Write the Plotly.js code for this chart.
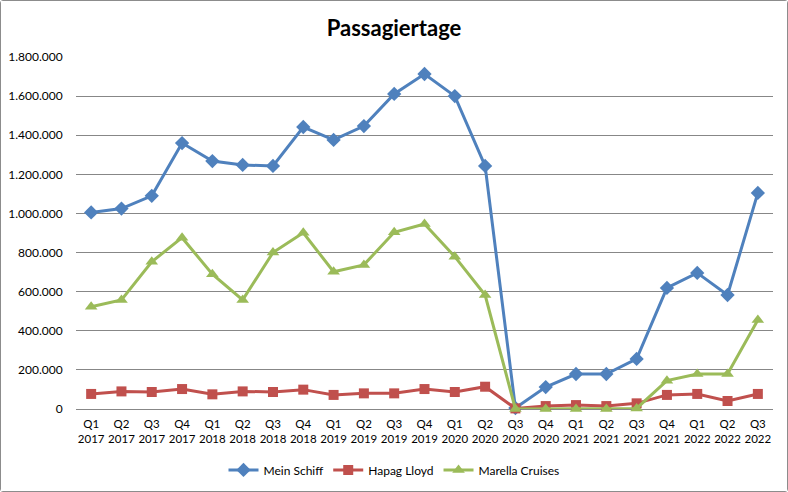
<!DOCTYPE html>
<html>
<head>
<meta charset="utf-8">
<script src="https://cdn.plot.ly/plotly-3.0.1.min.js"></script>
<style>
  html, body { margin: 0; padding: 0; background: #fff; }
  #plot {
    width: 786px;
    height: 490px;
    border: 1px solid #8c8c8c;
    border-radius: 3px;
  }
</style>
</head>
<body>
<div id="plot"></div>
<script>
'use strict';

const quarters = [
  'Q1<br>2017', 'Q2<br>2017', 'Q3<br>2017', 'Q4<br>2017',
  'Q1<br>2018', 'Q2<br>2018', 'Q3<br>2018', 'Q4<br>2018',
  'Q1<br>2019', 'Q2<br>2019', 'Q3<br>2019', 'Q4<br>2019',
  'Q1<br>2020', 'Q2<br>2020', 'Q3<br>2020', 'Q4<br>2020',
  'Q1<br>2021', 'Q2<br>2021', 'Q3<br>2021', 'Q4<br>2021',
  'Q1<br>2022', 'Q2<br>2022', 'Q3<br>2022'
];

const meinSchiff = [
  1005000, 1025000, 1090000, 1360000,
  1268000, 1248000, 1243000, 1442000,
  1376000, 1447000, 1611000, 1713000,
  1600000, 1243000, 5000, 112000,
  179000, 179000, 256000, 619000,
  696000, 583000, 1105000
];

const hapagLloyd = [
  77000, 90000, 87000, 102000,
  75000, 90000, 87000, 99000,
  72000, 80000, 80000, 102000,
  87000, 114000, 3000, 15000,
  20000, 15000, 29000, 72000,
  77000, 41000, 77000
];

const marella = [
  523000, 558000, 753000, 876000,
  689000, 558000, 800000, 901000,
  702000, 737000, 904000, 946000,
  779000, 583000, 0, 0,
  0, 0, 3000, 145000,
  179000, 179000, 455000
];

const font = 'Lato, "Open Sans", sans-serif';

function series(name, values, color, symbol, size) {
  return {
    type: 'scatter',
    mode: 'lines+markers',
    name: name,
    x: quarters,
    y: values,
    cliponaxis: false,
    line: {color: color, width: 3},
    marker: {color: color, symbol: symbol, size: size}
  };
}

var traces = [
  series('Mein Schiff', meinSchiff, '#4f81bd', 'diamond', 11),
  series('Hapag Lloyd', hapagLloyd, '#c0504d', 'square', 10),
  series('Marella Cruises', marella, '#9bbb59', 'triangle-up', 11)
];

var layout = {
  width: 786,
  height: 490,
  paper_bgcolor: '#ffffff',
  plot_bgcolor: '#ffffff',
  separators: ',.',
  font: {family: font, size: 12, color: '#000'},
  margin: {l: 75, r: 14, t: 56, b: 82},
  title: {
    text: '<b>Passagiertage</b>',
    font: {family: font, size: 22, color: '#000'},
    x: 0.5,
    xanchor: 'center',
    xref: 'container',
    y: 0.945,
    yanchor: 'middle',
    yref: 'container'
  },
  xaxis: {
    type: 'category',
    range: [-0.5, quarters.length - 0.5],
    automargin: false,
    showgrid: false,
    showline: false,
    zeroline: false,
    ticks: 'outside',
    ticklen: 4,
    tickcolor: 'rgba(0,0,0,0)',
    tickangle: 0,
    tickfont: {family: font, size: 11.5}
  },
  yaxis: {
    range: [0, 1800000],
    automargin: false,
    dtick: 200000,
    tickformat: ',d',
    showgrid: true,
    gridcolor: '#878787',
    gridwidth: 1,
    showline: false,
    zeroline: true,
    zerolinecolor: '#878787',
    zerolinewidth: 1,
    ticks: 'outside',
    ticklen: 10,
    tickcolor: 'rgba(0,0,0,0)',
    tickfont: {family: font, size: 12}
  },
  showlegend: true,
  legend: {
    orientation: 'h',
    xref: 'container',
    x: 0.5,
    xanchor: 'center',
    yref: 'container',
    y: 0.043,
    yanchor: 'middle',
    font: {family: font, size: 12},
    itemwidth: 30,
    traceorder: 'normal'
  }
};

var config = {
  responsive: false,
  displayModeBar: false,
  staticPlot: true
};

Plotly.newPlot('plot', traces, layout, config);
</script>
</body>
</html>
